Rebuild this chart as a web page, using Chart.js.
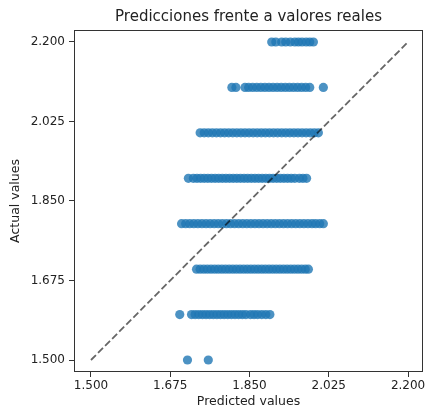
<!DOCTYPE html>
<html>
<head>
<meta charset="utf-8">
<script src="https://cdn.jsdelivr.net/npm/chart.js@4/dist/chart.umd.min.js"></script>
<style>
  body { margin: 0; background: #fff; }
  #wrap { width: 428px; height: 412px; }
</style>
</head>
<body>
<div id="wrap"><canvas id="predChart" width="428" height="412"></canvas></div>
<script>
// Actual value of each row of points (y)
const actualRows = [1.5, 1.6, 1.7, 1.8, 1.9, 2.0, 2.1, 2.2];

// Predicted values (x), one array per row
const pred150 = [1.713, 1.759];
const pred160 = [1.696, 1.722, 1.730, 1.738, 1.746, 1.754, 1.762, 1.770, 1.778, 1.786, 1.794, 1.802,
  1.810, 1.818, 1.826, 1.834, 1.842, 1.852, 1.860, 1.868, 1.877, 1.886, 1.895];
const pred170 = [1.733, 1.741, 1.749, 1.757, 1.765, 1.773, 1.781, 1.789, 1.797, 1.805, 1.813, 1.821,
  1.829, 1.837, 1.845, 1.853, 1.861, 1.869, 1.877, 1.885, 1.893, 1.901, 1.909, 1.917, 1.925, 1.933,
  1.941, 1.949, 1.957, 1.965, 1.973, 1.980];
const pred180 = [1.700, 1.709, 1.718, 1.727, 1.736, 1.745, 1.754, 1.763, 1.772, 1.781, 1.790, 1.799,
  1.808, 1.817, 1.826, 1.835, 1.844, 1.853, 1.862, 1.871, 1.880, 1.889, 1.898, 1.907, 1.916, 1.925,
  1.934, 1.943, 1.952, 1.961, 1.970, 1.979, 1.988, 1.996, 2.005, 2.013];
const pred190 = [1.715, 1.726, 1.734, 1.742, 1.750, 1.758, 1.766, 1.774, 1.782, 1.790, 1.798, 1.806,
  1.814, 1.822, 1.830, 1.838, 1.846, 1.854, 1.862, 1.870, 1.878, 1.886, 1.894, 1.902, 1.910, 1.918,
  1.926, 1.934, 1.942, 1.950, 1.960, 1.968, 1.976];
const pred200 = [1.741, 1.750, 1.759, 1.768, 1.777, 1.786, 1.795, 1.804, 1.813, 1.822, 1.831, 1.840,
  1.849, 1.858, 1.867, 1.876, 1.885, 1.894, 1.903, 1.912, 1.921, 1.930, 1.939, 1.948, 1.957, 1.966,
  1.975, 1.984, 1.993, 2.002];
const pred210 = [1.811, 1.820, 1.840, 1.848, 1.857, 1.866, 1.875, 1.884, 1.893, 1.902, 1.911, 1.920,
  1.929, 1.938, 1.947, 1.956, 1.965, 1.974, 1.983, 2.013];
const pred220 = [1.899, 1.908, 1.921, 1.930, 1.940, 1.950, 1.958, 1.966, 1.975, 1.983, 1.991];

const predRows = [pred150, pred160, pred170, pred180, pred190, pred200, pred210, pred220];

// Ends of the dashed identity line
const identityEnds = [1.5, 2.2];

// Tick values on both axes
const tickValues = [1.5, 1.675, 1.85, 2.025, 2.2];

const scatterPoints = actualRows.flatMap((y, i) => predRows[i].map(x => ({ x: x, y: y })));
const identityPoints = identityEnds.map(v => ({ x: v, y: v }));

// Draw the full box around the plot area, like matplotlib spines
const frame = {
  id: 'frame',
  afterDatasetsDraw(chart) {
    const a = chart.chartArea;
    const ctx = chart.ctx;
    ctx.save();
    ctx.strokeStyle = 'rgba(0,0,0,0.8)';
    ctx.lineWidth = 1;
    ctx.strokeRect(a.left + 0.5, a.top + 0.5, a.right - a.left - 1, a.bottom - a.top - 1);
    ctx.restore();
  }
};

const fontFamily = '"DejaVu Sans", sans-serif';
const fixTicks = scale => { scale.ticks = tickValues.map(v => ({ value: v })); };

new Chart(document.getElementById('predChart'), {
  type: 'scatter',
  data: {
    datasets: [
      {
        type: 'line',
        data: identityPoints,
        borderColor: 'rgba(0,0,0,0.6)',
        borderWidth: 1.8,
        borderDash: [7, 3],
        pointRadius: 0,
        fill: false,
        order: 0
      },
      {
        data: scatterPoints,
        backgroundColor: 'rgba(31,119,180,0.8)',
        borderWidth: 0,
        pointRadius: 4.6,
        order: 1
      }
    ]
  },
  options: {
    responsive: false,
    animation: false,
    layout: { padding: { left: 0, right: 5, top: 0, bottom: 0 } },
    plugins: {
      legend: { display: false },
      tooltip: { enabled: false },
      title: {
        display: true,
        fullSize: false,
        text: 'Predicciones frente a valores reales',
        color: '#222',
        font: { family: fontFamily, size: 15, weight: 'normal' },
        padding: { top: 8, bottom: 4 }
      }
    },
    scales: {
      x: {
        type: 'linear',
        min: 1.4625,
        max: 2.233,
        afterBuildTicks: fixTicks,
        afterFit: s => { s.height = 40; },
        border: { display: false },
        grid: { drawOnChartArea: false, drawTicks: true, tickLength: 5, color: '#333' },
        ticks: {
          padding: 2,
          color: '#222',
          font: { family: fontFamily, size: 12 },
          callback: v => v.toFixed(3)
        },
        title: {
          display: true,
          text: 'Predicted values',
          color: '#222',
          font: { family: fontFamily, size: 12.5 },
          padding: 3
        }
      },
      y: {
        type: 'linear',
        min: 1.4736,
        max: 2.2264,
        afterBuildTicks: fixTicks,
        afterFit: s => { s.width = 74; },
        border: { display: false },
        grid: { drawOnChartArea: false, drawTicks: true, tickLength: 5, color: '#333' },
        ticks: {
          padding: 4,
          color: '#222',
          font: { family: fontFamily, size: 12 },
          callback: v => v.toFixed(3)
        },
        title: {
          display: true,
          text: 'Actual values',
          color: '#222',
          font: { family: fontFamily, size: 12.5 },
          padding: 8
        }
      }
    }
  },
  plugins: [frame]
});
</script>
</body>
</html>
